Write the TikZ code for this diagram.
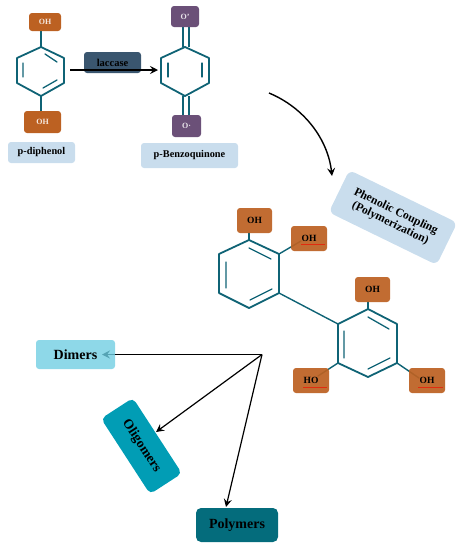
\documentclass[tikz,border=0pt]{standalone}
\usepackage{fontspec}
\setmainfont{Liberation Serif}
\usetikzlibrary{arrows.meta,backgrounds}
\definecolor{bondc}{HTML}{0F6375}
\definecolor{orng}{HTML}{BC6122}
\definecolor{purp}{HTML}{6B5078}
\definecolor{pale}{HTML}{C9DDED}
\definecolor{lacc}{HTML}{3A566F}
\definecolor{dimc}{HTML}{8ED8E8}
\definecolor{oligc}{HTML}{019DB5}
\definecolor{polyc}{HTML}{046C7C}
\tikzset{
  x=1pt,y=-1pt,
  box/.style={rounded corners=3pt,inner sep=0pt,align=center,font=\bfseries,text=black},
  oh/.style={box,fill=orng,fill opacity=.93,text opacity=1,font=\bfseries\fontsize{9.5}{10}\selectfont},
  ohpale/.style={box,fill=orng,text=white!85!orng,font=\bfseries\fontsize{8}{9}\selectfont},
  oxy/.style={box,fill=purp,text=white!85!purp,font=\bfseries\fontsize{8}{9}\selectfont},
  lab/.style={box,fill=pale,font=\bfseries\fontsize{10.3}{12}\selectfont},
  bond/.style={draw=bondc,line width=1.8pt,line cap=round,line join=round},
  inner bond/.style={draw=bondc,line width=1.3pt,line cap=round},
  thin bond/.style={draw=bondc,line width=1.2pt},
  flow/.style={draw=black,line width=1.2pt,-{Stealth[length=8pt,width=8pt,inset=3pt]}},
  under/.style={draw=orng!45!red,line width=.7pt}
}
\begin{document}
\begin{tikzpicture}
\useasboundingbox (0,0) rectangle (462,550);
% ring coordinates
\coordinate (a1) at (41,47); \coordinate (a2) at (64,58); \coordinate (a3) at (64,83);
\coordinate (a4) at (41,96); \coordinate (a5) at (17,83); \coordinate (a6) at (17,58);
\coordinate (b1) at (185,47); \coordinate (b2) at (209,58); \coordinate (b3) at (209,83);
\coordinate (b4) at (185,96); \coordinate (b5) at (161,83); \coordinate (b6) at (161,58);
\coordinate (c1) at (249,240); \coordinate (c2) at (279,254); \coordinate (c3) at (279,293);
\coordinate (c4) at (249,308); \coordinate (c5) at (219,293); \coordinate (c6) at (219,254);
\coordinate (d1) at (368,309); \coordinate (d2) at (397,324); \coordinate (d3) at (397,363);
\coordinate (d4) at (368,377); \coordinate (d5) at (338,363); \coordinate (d6) at (338,324);
\coordinate (cEnd) at (301,241); \coordinate (dEndL) at (318,376); \coordinate (dEndR) at (419,378);
% boxes
\node[ohpale,minimum width=32pt,minimum height=18pt] (oh1) at (45,22) {OH};
\node[ohpale,minimum width=37pt,minimum height=22pt] (oh2) at (42.5,122) {OH};
\node[oxy,minimum width=28pt,minimum height=21pt] (o1) at (185,16.5) {O'};
\node[oxy,minimum width=29pt,minimum height=22pt] (o2) at (186.5,126) {O·};
\node[lab,minimum width=67pt,minimum height=21pt] (pd) at (41.5,152.5) {p-diphenol};
\node[lab,minimum width=97pt,minimum height=25pt] (pb) at (189.5,155.5) {p-Benzoquinone};
\node[box,fill=lacc,font=\bfseries\fontsize{10.5}{12}\selectfont,minimum width=57pt,minimum height=21pt] (lac) at (112.5,62.5) {laccase};
\coordinate (lacS) at (70,70); \coordinate (lacE) at (158,70);
\node[box,fill=pale,rotate=-26,rounded corners=6pt,minimum width=120pt,minimum height=47pt,font=\bfseries\fontsize{11.7}{13}\selectfont] (pc) at (393,217.5) {Phenolic Coupling\\(Polymerization)};
\coordinate (curveS) at (269,93); \coordinate (curveE) at (332,176);
\node[oh,minimum width=35pt,minimum height=25pt] (oc1) at (254.5,220.5) {OH};
\node[oh,minimum width=36pt,minimum height=25pt] (oc2) at (309,238.5) {OH};
\node[oh,minimum width=35pt,minimum height=25pt] (od1) at (372.5,289.5) {OH};
\node[oh,minimum width=36pt,minimum height=25pt] (od2) at (311,380.5) {HO};
\node[oh,minimum width=36pt,minimum height=25pt] (od3) at (427,380.5) {OH};
\node[box,fill=dimc,minimum width=79pt,minimum height=29pt,font=\bfseries\fontsize{14}{16}\selectfont] (dim) at (75.5,354.5) {Dimers};
\node[box,fill=oligc,rotate=-57,rounded corners=5pt,minimum width=90pt,minimum height=38pt,font=\bfseries\fontsize{13.5}{15}\selectfont] (oli) at (141.5,446) {Oligomers};
\node[box,fill=polyc,rounded corners=5pt,minimum width=82pt,minimum height=34pt,font=\bfseries\fontsize{14}{16}\selectfont] (pol) at (237,525) {Polymers};
\coordinate (hub) at (262,354.5);
\coordinate (dimE) at (102,354.5);
\coordinate (oliE) at (156,432);
\coordinate (polE) at (226,507);
% bonds, behind the boxes
\begin{pgfonlayer}{background}
\draw[bond] (a1)--(a2)--(a3)--(a4)--(a5)--(a6)--cycle;
\draw[bond] (b1)--(b2)--(b3)--(b4)--(b5)--(b6)--cycle;
\draw[bond] (c1)--(c2)--(c3)--(c4)--(c5)--(c6)--cycle;
\draw[bond] (d1)--(d2)--(d3)--(d4)--(d5)--(d6)--cycle;
\draw[thin bond] (a1)--(41,31);
\draw[thin bond] (a4)--(41,111);
\draw[bond,line width=1.4pt] (c1)--(249,233);
\draw[bond,line width=1.4pt] (c2)--(cEnd);
\draw[bond,line width=1.4pt] (c3)--(d6);
\draw[bond,line width=1.4pt] (d1)--(368,302);
\draw[bond,line width=1.4pt] (d5)--(dEndL);
\draw[bond,line width=1.4pt] (d3)--(dEndR);
\draw[thin bond] (183,47)--(183,27) (189,47)--(189,27);
\draw[thin bond] (183,96)--(183,115) (189,96)--(189,115);
\end{pgfonlayer}
% inner bonds
\draw[inner bond] (45,54)--(57,62) (43,88)--(57,80) (23,63)--(23,77);
\draw[inner bond] (168,63)--(168,77) (202,63)--(202,77);
\draw[inner bond] (249,248)--(271,259) (250,300)--(272,289) (226,262)--(226,288);
\draw[inner bond] (368,317)--(389,329) (368,369)--(390,358) (344,331)--(344,358);
% red underlines
\draw[under] (301,244.5)--(325,244.5) (303,387.5)--(327,387.5) (418,387.5)--(443,387.5);
% connectors
\draw[flow] (lacS)--(lacE);
\draw[flow,line width=1.4pt] (curveS) .. controls (305,108) and (328,140) .. (curveE);
\draw[draw=black,line width=1.2pt] (hub)--(dim.east);
\draw[draw=dimc!55!bondc,line width=1.2pt,-{Stealth[length=8pt,width=8pt,inset=3pt]}] (dim.east)--(dimE);
\draw[flow] (hub)--(oliE);
\draw[flow] (hub)--(polE);
\end{tikzpicture}
\end{document}
